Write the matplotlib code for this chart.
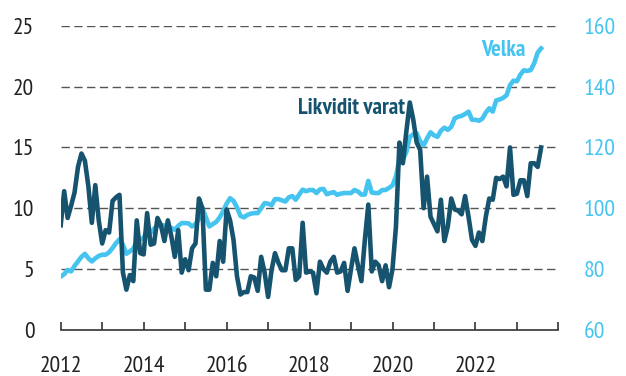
import matplotlib.pyplot as plt
import numpy as np

# monthly series, Jan 2012 onwards
likvidit = [
    8.6, 11.4, 9.2, 10.2, 11.3, 13.4, 14.5, 13.9, 11.8, 8.8, 11.9, 9.0,
    7.1, 8.2, 8.0, 10.6, 10.9, 11.1, 4.7, 3.3, 4.5, 4.0, 9.0, 6.3,
    6.2, 9.6, 7.0, 7.1, 9.2, 8.6, 7.3, 9.0, 7.7, 6.0, 8.2, 4.7,
    5.8, 4.9, 6.7, 7.1, 10.8, 10.0, 3.3, 3.3, 5.5, 4.4, 7.3, 5.6,
    9.9, 9.0, 7.4, 4.4, 2.9, 3.1, 3.1, 4.4, 4.3, 3.2, 6.0, 4.7,
    2.7, 4.9, 6.3, 5.5, 4.9, 4.9, 6.7, 6.7, 4.1, 4.4, 8.8, 4.7,
    4.8, 4.7, 3.0, 5.6, 5.0, 4.7, 5.6, 6.0, 4.7, 4.8, 5.5, 3.2,
    5.0, 6.7, 5.3, 4.0, 7.4, 10.3, 4.8, 5.6, 5.3, 4.0, 5.3, 3.5,
    5.0, 8.5, 15.4, 13.7, 16.3, 18.7, 17.3, 15.4, 14.8, 10.0, 12.6, 9.3,
    8.7, 8.1, 10.7, 7.3, 8.5, 10.8, 9.9, 9.8, 9.5, 11.0, 9.3, 7.4,
    6.9, 8.0, 7.3, 9.3, 10.8, 10.7, 12.5, 12.4, 12.6, 11.8, 15.0, 11.1,
    11.2, 12.3, 12.3, 11.0, 13.7, 13.7, 13.4, 15.0,
]

velka = [
    77.5, 78.3, 79.7, 79.2, 81.0, 82.5, 84.0, 85.0, 83.5, 82.5, 83.5, 84.3,
    84.7, 84.7, 85.5, 86.9, 88.5, 89.8, 88.0, 85.0, 85.8, 86.7, 89.0, 89.8,
    90.2, 92.8, 91.8, 93.3, 94.2, 94.5, 94.3, 94.2, 93.5, 92.9, 94.2, 95.1,
    95.1, 95.0, 94.0, 94.8, 96.5, 100.0, 97.0, 94.0, 94.8, 95.5, 97.0, 99.0,
    101.5, 103.3, 102.4, 100.3, 97.5, 97.0, 97.8, 98.2, 98.4, 98.4, 100.0, 101.7,
    101.5, 101.0, 103.0, 103.0, 102.6, 102.2, 103.6, 104.0, 102.8, 104.5, 106.1, 105.6,
    106.0, 106.0, 105.0, 106.2, 106.4, 104.6, 105.0, 105.3, 104.4, 104.8, 105.0, 105.0,
    105.0, 106.0, 105.5, 104.5, 104.5, 109.0, 105.2, 105.0, 105.0, 106.0, 106.0, 106.7,
    107.5, 110.5, 116.5, 115.9, 118.5, 123.5, 124.3, 124.7, 122.0, 120.7, 123.0, 125.0,
    124.0, 123.5, 125.5, 126.5, 125.8, 126.8, 129.6, 130.1, 130.4, 131.0, 131.8, 129.1,
    129.1, 128.8, 129.5, 131.5, 132.9, 131.8, 135.5, 135.8, 136.3, 137.2, 140.5, 142.0,
    141.8, 144.0, 145.4, 145.2, 145.5, 147.7, 151.2, 152.6,
]

years = 2012 + np.arange(len(likvidit)) / 12

dark = '#15536f'
light = '#45c4ef'

plt.rcParams['font.family'] = ['PT Sans Narrow', 'DejaVu Sans']

fig = plt.figure(figsize=(6.26, 3.76), dpi=100)
ax = fig.add_axes([0.097, 0.123, 0.795, 0.808])
ax2 = ax.twinx()

# dark series sits in front of the light one
ax.set_zorder(ax2.get_zorder() + 1)
ax.patch.set_visible(False)

for v in [80, 100, 120, 140, 160]:
    ax2.axhline(v, color='#555555', lw=1, dashes=(6, 3.2), zorder=0)

ax2.plot(years, velka, color=light, lw=3.3, solid_joinstyle='round', zorder=2)
ax.plot(years, likvidit, color=dark, lw=3.3, solid_joinstyle='round', zorder=3)

ax.set_xlim(2012, 2024)
ax.set_ylim(0, 25)
ax2.set_ylim(60, 160)

ax.set_xticks(range(2012, 2025))
ax.set_xticklabels([str(y) if y % 2 == 0 and y < 2024 else '' for y in range(2012, 2025)])
ax.set_yticks([0, 5, 10, 15, 20, 25])
ax2.set_yticks([60, 80, 100, 120, 140, 160])

for a in (ax, ax2):
    for s in a.spines.values():
        s.set_visible(False)
ax.spines['bottom'].set_visible(True)
ax.spines['bottom'].set_color('#333333')
ax.spines['bottom'].set_linewidth(1.2)

ax.tick_params(axis='x', direction='in', length=6, width=1.2, color='#333333',
               labelsize=17, labelcolor='#222222', pad=19)
ax.tick_params(axis='y', length=0, labelsize=17, labelcolor='#222222', pad=19)
ax2.tick_params(axis='y', length=0, labelsize=17, labelcolor=light, pad=18)

ax.text(2017.72, 18.2, 'Likvidit varat', color=dark, fontsize=16.5,
        fontweight='bold', ha='left', va='center')
ax.text(2023.2, 23.0, 'Velka', color=light, fontsize=16.5,
        fontweight='bold', ha='right', va='center')

fig.savefig('out.png', dpi=100)
